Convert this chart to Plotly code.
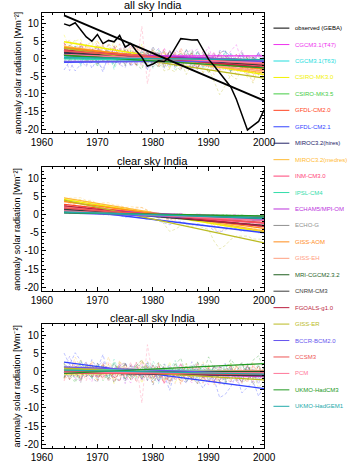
import numpy as np
import plotly.graph_objects as go

years = list(range(1964, 2001))

models = ["CGCM3.1(T47)", "CGCM3.1(T63)", "CSIRO-MK3.0", "CSIRO-MK3.5", "GFDL-CM2.0",
          "GFDL-CM2.1", "MIROC3.2(hires)", "MIROC3.2(medres)", "INM-CM3.0", "IPSL-CM4",
          "ECHAM5/MPI-OM", "ECHO-G", "GISS-AOM", "GISS-EH", "MRI-CGCM2.3.2", "CNRM-CM3",
          "FGOALS-g1.0", "GISS-ER", "BCCR-BCM2.0", "CCSM3", "PCM", "UKMO-HadCM3", "UKMO-HadGEM1"]
colors = ["#ee33ee", "#22dddd", "#f2f200", "#44cc44", "#ff4422", "#3344ff", "#222266",
          "#ffbb33", "#ff4477", "#33ddaa", "#bb33dd", "#909090", "#ff8c1a", "#ffa080",
          "#1f5f1f", "#3a3a3a", "#bb1f3f", "#bbbb22", "#6655ee", "#ee5555", "#ff7799",
          "#229922", "#22aaaa"]

# observed (GEBA) all-sky anomalies
obs_all = [9.9, 9.35, 10.2, 8.2, 6.2, 5.0, 6.9, 4.3, 5.2, 4.8, 6.6, 3.3, 4.3, 2.2, 0.4,
           -2.1, -1.5, -0.6, -0.8, 0.4, 3.0, 5.7, 5.5, 5.3, 5.4, 2.7, -0.2, -2.0, -4.0,
           -5.9, -8.0, -11.5, -15.8, -20.2, -19.0, -17.8, -14.5]
obs_trend = [12.3, -11.9]
trend_years = [1964, 2000]

# model trend end values (1964, 2000)
all_trend_start = [0.8, 0.5, 4.8, 1.5, 3.0, -1.0, 1.5, 3.5, 2.0, 0.0, 2.0, 1.0, 3.2, 2.5, 1.0, 1.8, 2.5, 3.0, -0.8, 2.2, 1.2, 1.0, 0.3]
all_trend_end = [0.8, -0.5, -4.5, -1.5, -2.5, -0.3, -0.5, -4.0, -2.0, -1.0, -0.5, -1.0, -3.0, -3.5, -1.0, -1.8, -2.5, -5.5, -0.8, -1.5, -1.2, -2.6, -0.3]
clr_trend_start = [0.8, 0.8, 4.2, 1.0, 2.8, 1.6, 1.2, 4.6, 1.6, 0.6, 1.8, 1.0, 3.6, 2.2, 0.8, 1.5, 2.4, 4.0, 0.5, 1.8, 1.0, 0.5, 0.7]
clr_trend_end = [-0.6, -1.2, -4.8, -1.3, -3.2, -5.0, -1.5, -4.5, -2.4, -0.8, -1.4, -1.5, -3.8, -3.2, -1.0, -3.0, -3.2, -7.8, -1.5, -2.2, -1.6, -0.4, -1.0]

# interannual deviations from trend, all sky
all_dev = [
 [1.2,-0.8,2.1,-1.5,0.4,2.8,-2.2,0.9,-0.3,1.7,-2.6,0.5,3.1,-1.1,-2.4,1.6,0.2,-1.9,2.3,-0.6,1.1,-2.8,0.7,1.9,-1.3,-0.2,2.6,-2.1,0.8,-0.9,1.4,3.2,-1.7,0.3,-2.5,1.0,-0.4],
 [-0.6,1.4,0.3,-2.1,1.8,-0.4,2.2,-1.3,0.6,-2.7,1.5,0.1,-1.0,2.4,-0.8,-1.8,1.2,2.9,-0.5,-2.3,0.4,1.7,-1.4,0.9,2.1,-2.6,-0.3,1.3,-1.6,2.5,0.2,-1.2,1.9,-2.0,0.7,1.5,-0.9],
 [2.0,-1.7,0.8,1.5,-2.4,0.3,1.9,-0.7,-2.2,2.6,-1.0,0.5,1.2,-1.8,3.0,-2.5,0.6,-0.4,1.7,-2.9,2.2,0.4,-1.5,1.0,-0.6,2.8,-2.0,0.1,1.4,-1.2,-2.3,2.0,0.9,-1.6,1.3,-0.5,2.4],
 [-1.4,0.9,2.3,-0.2,-1.9,1.1,-2.5,2.7,0.4,-0.9,-1.6,2.0,0.3,-2.2,1.5,0.8,-1.3,2.4,-2.7,0.6,-0.1,1.8,-2.0,2.9,-0.7,0.5,-1.8,1.6,-0.4,2.2,-2.4,0.7,1.1,-1.5,-0.3,2.0,-1.1],
 [0.7,2.5,-1.2,-2.8,1.6,0.2,-0.9,2.0,-1.7,1.3,2.7,-2.3,0.4,1.0,-1.4,-0.2,2.2,-2.6,1.8,-0.5,-1.9,3.3,0.6,-2.4,1.2,-0.8,1.9,-1.1,-2.2,0.9,2.4,-1.6,-0.1,2.8,-2.7,0.4,1.5],
 [-2.2,0.3,-2.5,-0.6,2.4,-1.8,0.8,-2.9,1.9,0.1,-0.7,2.6,-1.5,0.5,2.0,-2.4,-0.2,1.3,-1.0,3.0,-2.0,0.6,1.4,-2.7,0.2,2.3,-0.9,-1.7,2.8,2.5,1.0,-2.5,1.6,0.4,-1.3,2.1,-0.8],
 [1.5,-1.1,-0.4,2.2,-2.0,1.0,2.6,-1.6,-0.5,0.9,2.1,-2.8,1.4,-0.2,0.7,-1.5,2.9,-0.9,-2.1,1.8,0.3,-1.2,2.4,-0.6,-1.9,1.1,0.5,-2.3,1.7,2.5,-1.4,-0.3,2.0,-2.6,0.8,-0.7,1.2],
 [-0.3,1.9,-2.5,0.6,1.1,-1.4,0.2,2.3,-2.6,1.7,-0.8,-1.5,2.8,0.4,-2.0,1.3,-0.6,1.0,2.2,-2.4,0.9,-0.2,-1.7,2.6,0.1,-2.2,1.5,2.0,-1.0,-0.4,2.7,-1.9,0.3,1.6,-2.8,0.5,-1.3],
 [2.4,-2.0,0.5,1.2,-0.8,-2.3,1.6,0.7,-1.2,2.5,-0.5,1.1,-2.7,2.0,0.3,-1.6,0.9,-0.3,2.7,-1.8,1.4,-2.5,0.2,1.7,-0.9,0.6,-1.4,2.9,-2.4,1.0,-0.6,1.8,-1.1,0.3,2.2,-2.1,0.7],
 [-1.0,2.7,-0.5,-1.3,2.0,0.6,-2.1,1.4,2.2,-2.8,0.8,-0.2,1.9,-1.5,-0.7,2.6,-2.3,0.4,1.1,-0.1,-2.6,2.0,0.9,-1.1,2.8,-1.7,0.3,-0.6,1.6,-2.0,2.3,0.1,-1.8,1.2,-0.4,-1.6,2.5],
 [0.4,-2.3,1.3,2.6,-1.1,-0.6,2.0,-2.4,1.1,0.3,-1.7,2.8,-0.9,-2.1,1.6,0.5,-1.0,2.1,-0.3,-2.6,1.9,0.7,-2.2,1.3,2.4,-1.5,-0.4,1.8,-2.9,0.6,1.2,-0.8,2.6,-1.9,0.1,1.7,-2.3],
 [-1.8,1.1,-0.2,2.8,-2.6,1.7,-0.4,0.9,2.4,-1.3,-2.0,0.6,1.5,-0.7,2.3,-2.8,1.8,0.0,-1.2,2.5,-0.8,-1.9,2.7,-0.1,1.0,-2.4,2.2,0.5,-1.6,1.3,-0.2,2.0,-2.7,0.8,1.5,-1.0,0.3],
 [1.1,0.2,-2.6,1.8,0.7,-1.9,2.9,-1.2,-0.4,2.1,-2.5,1.0,0.3,2.6,-1.8,-0.5,1.4,-2.2,0.8,1.9,-1.3,2.5,-0.7,-2.0,0.6,1.7,-2.8,2.3,0.2,-1.1,0.9,-2.4,1.3,2.0,-0.6,-1.7,2.2],
 [-2.5,1.6,0.8,-1.0,2.3,-0.3,-1.6,2.5,0.2,-2.2,1.8,-1.1,2.4,0.6,-2.6,2.0,-0.7,-1.8,1.3,0.4,2.6,-2.1,1.2,-0.4,-1.5,2.1,0.8,-2.6,1.0,0.3,-1.9,2.7,-0.8,-1.2,2.0,0.6,-2.2],
 [0.9,-1.5,2.6,-0.9,-0.2,2.1,-2.7,0.6,1.6,-1.0,0.2,-2.4,2.1,1.0,-1.3,-0.8,2.4,-1.7,0.5,1.5,-2.3,0.9,-0.5,2.2,-2.7,1.2,0.4,-1.3,2.5,-1.8,0.7,-0.1,-2.2,1.9,0.6,-1.4,1.8],
 [-0.7,2.2,-1.9,0.4,1.4,-2.5,1.3,0.2,-1.9,2.7,-0.4,1.6,-2.3,0.9,0.0,1.9,-2.6,1.5,-0.8,2.3,-1.0,-0.3,1.6,-2.1,2.7,0.3,-1.6,1.1,-0.2,2.0,-2.7,1.4,0.6,-1.5,2.4,-0.6,-1.8],
 [2.1,-0.6,-1.4,2.5,-2.2,0.8,1.2,-2.0,2.6,-0.2,-1.3,1.9,0.5,-2.8,2.2,-0.9,0.3,1.7,-2.4,0.8,1.5,-1.4,-0.6,2.3,-1.9,0.9,2.5,-2.2,-0.5,1.6,-1.2,0.4,2.3,-2.6,1.0,0.2,-1.5],
 [-1.7,0.8,2.8,-1.7,1.7,3.0,0.1,-0.9,3.3,1.4,-1.1,3.5,0.1,2.5,0.5,-1.0,3.3,1.3,-2.2,-1.5,-2.0,1.4,-2.3,1.1,2.8,-1.0,0.4,-3.1,-6.6,-3.8,-0.5,-1.5,1.6,1.1,-1.9,3.1,0.9],
 [1.8,-2.6,1.0,0.3,-1.5,2.4,-0.2,-2.1,1.0,1.9,-0.9,-1.7,2.5,-0.4,1.2,-2.2,0.6,2.8,-1.9,-0.6,2.0,-1.2,1.1,-2.5,0.4,1.4,-0.7,2.1,-1.3,-2.4,2.6,-0.5,-1.0,1.8,-0.3,2.7,-2.0],
 [-0.9,1.3,-2.2,2.1,0.5,-1.3,2.4,-0.4,-2.5,1.6,0.9,-0.3,-1.9,2.6,-0.6,1.2,-2.1,0.7,2.0,-1.5,-0.2,2.2,-1.0,0.3,-2.6,2.5,-1.4,0.6,1.7,-0.9,-2.1,2.3,-0.4,1.1,-1.9,0.8,1.6],
 [0.5,2.0,-1.7,-0.5,2.8,-1.2,0.6,1.8,-2.3,0.2,2.2,-1.5,0.9,-2.6,8.9,-7.3,1.4,-0.3,-1.1,2.3,-2.0,0.7,1.6,-0.9,-2.4,1.9,0.3,-1.4,2.6,-0.7,-1.8,2.1,0.4,-2.2,1.3,0.8,-1.6],
 [1.3,-2.1,0.6,2.4,-0.9,-1.6,1.0,0.3,2.5,-2.2,0.7,-0.5,1.8,-1.3,-2.6,2.0,0.8,-1.9,0.4,1.6,-0.7,-2.3,2.1,0.5,-1.2,1.8,-2.5,0.9,0.2,1.5,-1.8,0.6,-0.3,2.4,-1.0,-2.0,1.7],
 [-1.6,0.9,1.5,-2.4,0.3,2.2,-1.3,-0.6,1.7,-2.0,0.6,2.3,-1.1,0.2,1.9,-2.6,-0.4,1.2,2.0,-1.7,0.5,-1.0,2.6,-2.1,0.8,0.1,1.6,-2.3,-0.5,2.2,-1.5,0.9,1.3,-2.7,0.2,1.8,-0.6],
]

# interannual deviations from trend, clear sky
clr_dev = [
 [0.3,-0.2,0.4,0.1,-0.3,0.2,0.5,-0.1,-0.4,0.3,0.1,-0.2,0.4,0.6,0.2,-0.3,-0.1,0.2,-0.4,-0.6,-0.2,0.3,0.1,-0.3,0.4,0.2,-0.1,-0.5,-0.3,0.1,0.3,0.5,-0.2,0.0,-0.4,0.2,0.3],
 [-0.2,0.3,0.1,-0.4,0.2,0.5,-0.1,0.3,0.2,-0.3,0.4,0.1,-0.2,0.3,0.5,0.1,-0.4,-0.2,0.2,-0.3,0.1,0.4,-0.1,0.2,-0.5,-0.2,0.3,0.1,-0.3,-0.1,0.2,-0.4,0.3,0.1,-0.2,0.4,-0.1],
 [0.5,-0.3,0.2,0.6,-0.1,-0.4,0.3,0.1,0.4,-0.2,0.2,0.5,-0.3,0.1,0.3,0.6,-0.2,-0.4,-0.1,0.2,-0.3,0.1,0.4,-0.2,0.1,0.3,-0.4,0.2,-0.1,-0.3,0.4,0.1,-0.2,0.3,-0.4,-0.1,0.2],
 [0.2,0.4,-0.3,-0.1,0.3,0.1,-0.4,0.5,0.2,-0.2,-0.1,0.3,0.4,-0.3,0.2,0.1,-0.2,0.3,-0.5,-0.3,0.2,-0.1,0.3,0.4,-0.2,-0.4,0.1,0.2,-0.3,0.3,-0.1,0.4,-0.2,-0.3,0.1,0.2,-0.2],
 [-0.4,0.6,0.2,-0.3,0.5,0.3,-0.2,0.4,-0.5,0.1,0.6,0.2,-0.1,0.4,0.3,-0.6,-0.3,0.2,-0.8,-1.0,-0.4,0.3,0.5,-0.2,0.1,0.4,-0.3,-1.2,-1.5,-0.6,0.2,0.5,-0.3,0.4,-0.1,0.3,0.2],
 [0.3,-0.2,0.5,0.4,-0.3,-0.1,0.2,0.6,-0.2,0.3,0.1,-0.4,0.3,0.5,0.2,-0.2,0.1,-0.3,-0.7,-0.9,-0.2,0.4,0.1,-0.3,0.3,0.2,-0.1,-1.0,-1.3,-0.5,0.3,0.2,-0.4,0.1,0.3,-0.2,0.1],
 [0.1,0.3,-0.2,0.4,0.2,-0.3,0.1,0.3,0.5,-0.2,-0.1,0.2,0.4,-0.3,0.1,0.3,-0.2,0.1,-0.4,-0.2,0.3,-0.1,0.2,0.4,-0.3,0.1,-0.2,0.3,-0.1,-0.4,0.2,0.3,-0.2,0.1,-0.3,0.4,-0.1],
 [-0.6,0.2,0.5,0.8,0.3,0.6,-0.2,0.4,0.7,0.3,0.5,0.1,0.6,0.8,0.9,0.4,-0.3,0.2,-1.0,-1.8,-0.9,0.1,0.4,0.2,-0.3,0.5,0.3,-1.6,-2.4,-1.2,0.2,0.6,0.1,-0.4,0.3,0.2,-0.2],
 [0.2,-0.3,0.1,0.4,-0.2,0.3,0.5,-0.1,0.2,0.4,-0.3,0.1,0.3,-0.2,0.4,0.2,-0.4,0.1,-0.2,-0.3,0.3,0.2,-0.1,0.4,0.1,-0.3,0.2,-0.2,-0.4,0.1,0.3,-0.1,0.2,0.4,-0.2,0.1,-0.3],
 [-0.1,0.2,0.3,-0.2,0.4,0.1,-0.3,0.2,0.3,0.1,-0.2,0.4,0.1,-0.1,0.3,-0.3,0.2,0.4,-0.1,-0.2,0.1,0.3,-0.3,0.2,0.4,-0.1,0.1,-0.3,0.2,-0.2,0.3,0.1,-0.1,0.2,-0.3,0.1,0.2],
 [0.4,0.1,-0.3,0.2,0.5,-0.2,0.3,0.1,-0.4,0.2,0.3,-0.1,0.5,0.2,-0.3,0.4,0.1,-0.2,-0.5,-0.3,0.2,0.4,-0.1,0.3,-0.2,0.1,0.3,-0.6,-0.8,-0.2,0.1,-0.3,0.4,0.2,-0.1,0.3,-0.2],
 [0.2,-0.1,0.3,-0.3,0.1,0.4,0.2,-0.2,0.3,-0.1,0.1,0.3,-0.4,0.2,0.1,-0.2,0.3,0.1,-0.3,0.2,-0.1,0.4,0.2,-0.3,0.1,0.3,-0.2,0.1,0.2,-0.4,0.1,0.3,-0.1,-0.2,0.2,-0.3,0.1],
 [0.6,0.3,-0.2,0.5,0.8,0.4,0.2,0.6,0.1,-0.3,0.5,0.7,0.3,0.9,1.2,0.6,0.2,-0.4,-0.2,-0.6,-0.8,-0.3,0.1,-0.5,-0.2,0.3,-0.6,-0.4,-0.9,-0.3,0.2,-0.1,0.4,0.3,-0.2,0.5,0.1],
 [0.3,-0.2,0.5,0.2,0.4,0.6,0.1,0.3,0.5,0.2,0.7,0.4,0.2,0.6,0.3,0.1,-0.3,0.2,-1.0,-1.5,-0.8,-0.2,0.1,-0.4,-0.3,0.2,-0.1,-1.8,-2.5,-1.4,-0.3,0.2,0.4,0.1,0.5,0.3,0.6],
 [-0.2,0.1,0.3,-0.1,0.2,0.4,-0.2,0.1,0.3,-0.3,0.2,0.1,-0.1,0.3,0.2,-0.2,0.1,0.3,-0.2,-0.1,0.2,-0.3,0.1,0.2,-0.1,0.3,0.1,-0.2,-0.3,0.1,0.2,-0.1,0.3,-0.2,0.1,0.2,-0.1],
 [0.1,0.3,-0.2,0.2,0.4,-0.1,0.3,0.2,-0.3,0.1,0.4,0.2,-0.1,0.3,-0.2,0.1,0.2,-0.3,0.1,-0.4,0.2,0.1,0.3,-0.2,0.2,-0.1,0.3,-0.3,-0.2,0.1,0.2,-0.2,0.1,0.3,-0.1,0.2,-0.3],
 [0.3,0.1,-0.2,0.4,0.2,-0.3,0.3,0.5,0.1,-0.2,0.2,0.4,-0.3,0.1,0.3,0.2,-0.1,0.3,-0.4,-0.2,0.1,0.3,-0.2,0.2,0.4,-0.3,0.1,-0.2,0.2,-0.1,0.3,0.2,-0.3,0.1,0.2,-0.2,0.3],
 [-0.5,0.3,0.8,1.0,0.7,1.2,0.9,0.6,1.1,0.8,1.3,1.0,0.7,1.2,1.5,1.1,0.6,0.9,-0.8,-2.4,-1.5,-0.2,0.5,0.3,0.8,0.6,0.4,-2.5,-4.3,-3.0,-1.0,0.2,0.6,0.9,0.4,0.7,1.0],
 [0.2,0.4,-0.1,0.3,0.1,0.5,0.2,-0.2,0.4,0.3,-0.1,0.2,0.4,0.1,-0.3,0.2,0.3,-0.2,-0.1,0.2,0.4,-0.3,0.1,0.2,0.3,-0.2,0.1,-0.4,-0.3,0.2,0.1,0.3,-0.2,0.2,0.4,-0.1,0.2],
 [-0.3,0.2,0.4,0.1,-0.2,0.3,0.5,0.2,-0.1,0.4,0.2,-0.3,0.3,0.1,0.4,-0.2,0.2,0.3,-0.3,-0.5,0.1,0.2,-0.2,0.4,0.1,-0.1,0.3,-0.4,-0.6,-0.1,0.2,0.4,-0.3,0.1,0.2,0.3,-0.2],
 [0.4,0.2,-0.1,0.3,0.5,0.1,-0.2,0.3,0.4,0.2,-0.3,0.1,0.4,0.2,0.5,0.4,-0.1,0.2,-0.5,-0.7,-0.2,0.3,0.1,-0.1,0.2,0.4,-0.2,-0.7,-0.9,-0.3,0.1,0.3,0.2,-0.2,0.1,0.4,0.2],
 [0.1,-0.2,0.2,0.3,-0.1,0.2,0.1,-0.3,0.2,0.1,0.3,-0.1,0.2,-0.2,0.1,0.3,0.2,-0.1,0.1,-0.2,0.2,0.3,-0.1,0.1,0.2,-0.2,0.1,0.2,-0.1,0.3,-0.2,0.1,0.2,-0.1,0.1,0.2,-0.1],
 [0.3,0.1,-0.2,0.2,0.4,-0.1,0.2,0.3,-0.2,0.1,0.4,0.2,-0.1,0.3,0.2,-0.3,0.1,0.2,-0.2,-0.4,0.1,0.3,0.2,-0.1,0.2,0.1,-0.2,-0.5,-0.4,0.1,0.3,-0.1,0.2,0.1,-0.2,0.3,0.1],
]

panel_titles = ["all sky India", "clear sky India", "clear-all sky India"]
y_title = "anomaly solar radiation [Wm\u207b\u00b2]"
xtick_vals = [1960, 1970, 1980, 1990, 2000]
ytick_vals = [-20, -15, -10, -5, 0, 5, 10]
ytick_text = ["-20", "-15", "-10", "-5", "0", "5", "10"]

for lst in all_dev + clr_dev:
    assert len(lst) == len(years), len(lst)

W, H = 349, 463
yr = np.array(years, dtype=float)
ty = np.array(trend_years, dtype=float)


def line_at(start, end, x):
    return start + (end - start) * (x - ty[0]) / (ty[1] - ty[0])


series = {1: [], 2: [], 3: []}
trends = {1: [], 2: [], 3: []}
for i in range(len(models)):
    a_tr = line_at(all_trend_start[i], all_trend_end[i], yr)
    c_tr = line_at(clr_trend_start[i], clr_trend_end[i], yr)
    a_s = a_tr + np.array(all_dev[i])
    c_s = c_tr + np.array(clr_dev[i])
    series[1].append(a_s)
    series[2].append(c_s)
    series[3].append(c_s - a_s)
    trends[1].append([all_trend_start[i], all_trend_end[i]])
    trends[2].append([clr_trend_start[i], clr_trend_end[i]])
    trends[3].append([clr_trend_start[i] - all_trend_start[i], clr_trend_end[i] - all_trend_end[i]])

fig = go.Figure()
for p in (1, 2, 3):
    xa = "x" if p == 1 else f"x{p}"
    ya = "y" if p == 1 else f"y{p}"
    for i in range(len(models)):
        fig.add_trace(go.Scatter(x=years, y=series[p][i], mode="lines", xaxis=xa, yaxis=ya,
                                 line=dict(color=colors[i], width=0.7, dash="3px,2px"),
                                 opacity=0.45, showlegend=False, hoverinfo="skip"))
    for i in range(len(models)):
        fig.add_trace(go.Scatter(x=trend_years, y=trends[p][i], mode="lines", xaxis=xa, yaxis=ya,
                                 line=dict(color=colors[i], width=1.4), showlegend=False,
                                 hoverinfo="skip"))
    if p == 1:
        fig.add_trace(go.Scatter(x=years, y=obs_all, mode="lines", xaxis=xa, yaxis=ya,
                                 line=dict(color="black", width=1.5), showlegend=False))
        fig.add_trace(go.Scatter(x=trend_years, y=obs_trend, mode="lines", xaxis=xa, yaxis=ya,
                                 line=dict(color="black", width=2), showlegend=False))

x_dom = [33 / W, 271 / W]
y_px = [(13.0, 133.6), (168.5, 292.7), (326.5, 450.7)]
title_px = [5, 162, 320]
font = "Liberation Sans, Arial, sans-serif"

layout = dict(width=W, height=H, margin=dict(l=0, r=0, t=0, b=0),
              paper_bgcolor="white", plot_bgcolor="white", showlegend=False,
              font=dict(family=font, size=10, color="black"))
annotations = []
shapes = []
for p in (1, 2, 3):
    top, bot = y_px[p - 1]
    kx = "xaxis" if p == 1 else f"xaxis{p}"
    ky = "yaxis" if p == 1 else f"yaxis{p}"
    layout[kx] = dict(domain=x_dom, range=[1960, 2000], anchor="y" if p == 1 else f"y{p}",
                      tickmode="array", tickvals=xtick_vals, ticks="inside", ticklen=4,
                      tickcolor="black", showline=True, linecolor="black", linewidth=1,
                      mirror="allticks", showgrid=False, zeroline=False,
                      tickfont=dict(family=font, size=10, color="black"),
                      minor=dict(tickmode="linear", tick0=1960, dtick=2, ticks="inside",
                                 ticklen=2, tickcolor="black", showgrid=False))
    layout[ky] = dict(domain=[1 - bot / H, 1 - top / H], range=[-21, 13],
                      anchor="x" if p == 1 else f"x{p}",
                      tickmode="array", tickvals=ytick_vals, ticktext=ytick_text,
                      ticks="inside", ticklen=4, tickcolor="black", showline=True,
                      linecolor="black", linewidth=1, mirror="allticks", showgrid=False,
                      zeroline=False, tickfont=dict(family=font, size=10, color="black"),
                      minor=dict(tickmode="linear", tick0=0, dtick=1, ticks="inside",
                                 ticklen=2, tickcolor="black", showgrid=False))
    annotations.append(dict(text=panel_titles[p - 1], xref="paper", yref="paper",
                            x=(x_dom[0] + x_dom[1]) / 2, y=1 - title_px[p - 1] / H,
                            xanchor="center", yanchor="middle", showarrow=False,
                            font=dict(family=font, size=11, color="black")))
    annotations.append(dict(text=y_title, xref="paper", yref="paper", x=7 / W,
                            y=1 - (top + bot) / 2 / H, xanchor="center", yanchor="middle",
                            textangle=-90, showarrow=False,
                            font=dict(family=font, size=9, color="black")))

# legend (drawn manually to match compact spacing)
leg_names = ["observed (GEBA)"] + models
leg_colors = ["black"] + colors
for k, (nm, col) in enumerate(zip(leg_names, leg_colors)):
    yy = 1 - (28.3 + k * 16.55) / H
    shapes.append(dict(type="line", xref="paper", yref="paper", x0=281 / W, x1=298 / W,
                       y0=yy, y1=yy, line=dict(color=col, width=1)))
    annotations.append(dict(text=nm, xref="paper", yref="paper", x=302 / W, y=yy,
                            xanchor="left", yanchor="middle", showarrow=False,
                            font=dict(family=font, size=6, color=col)))

layout["annotations"] = annotations
layout["shapes"] = shapes
fig.update_layout(**layout)
fig.write_html("out.html")
